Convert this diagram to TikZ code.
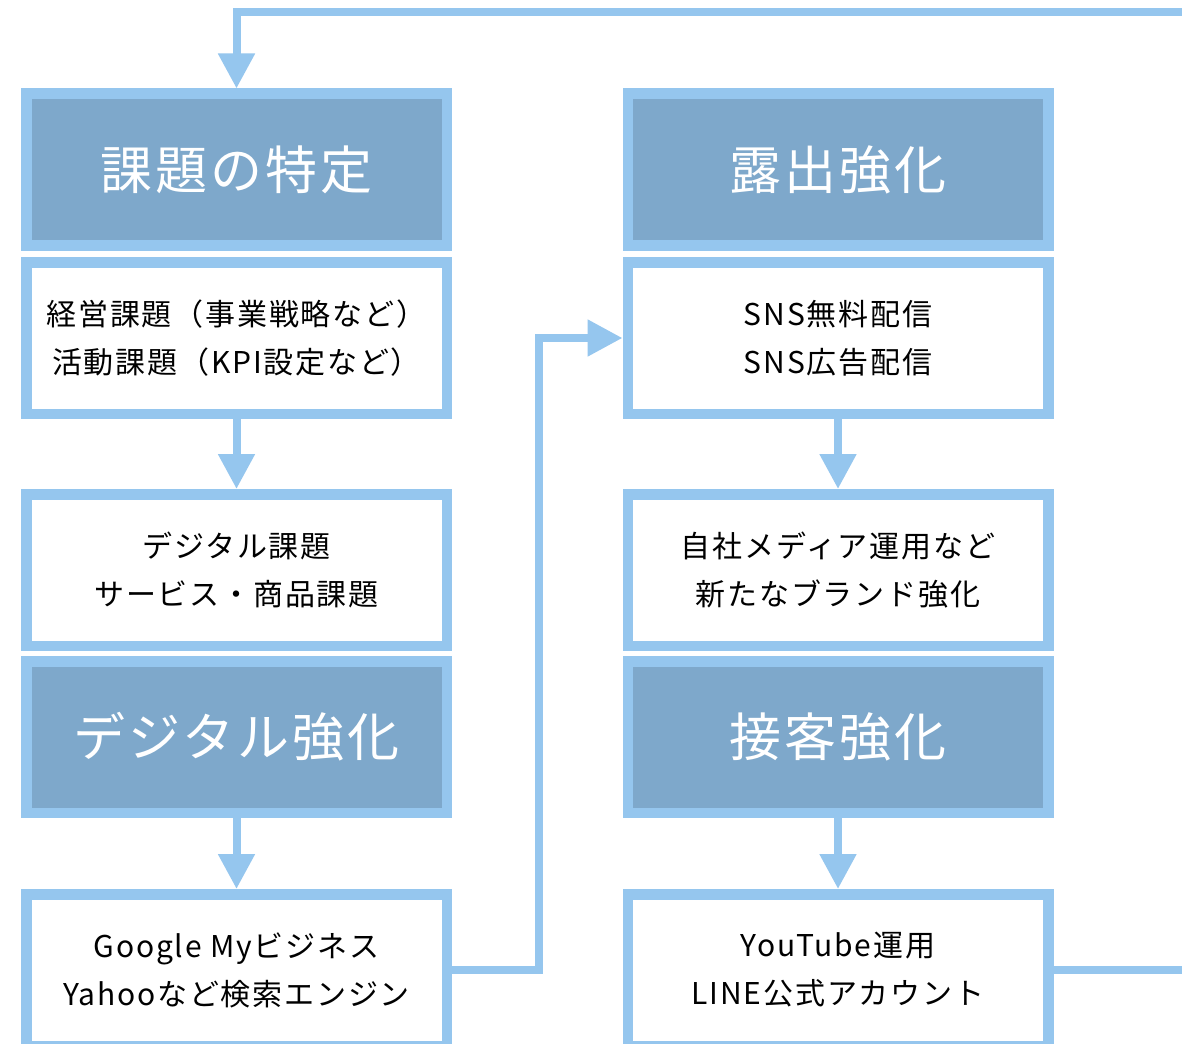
\documentclass[tikz,border=0pt]{standalone}
\usepackage{fontspec}
\setmainfont{Noto Sans CJK JP}
\newfontfamily\spacedfont{Noto Sans CJK JP}[LetterSpace=6]
\usetikzlibrary{arrows.meta}
\definecolor{bordc}{HTML}{95C6EE}
\definecolor{headc}{HTML}{7EA8CB}
\tikzset{
  box/.style={draw=bordc, line width=10.5pt, minimum width=420.5pt, minimum height=151.5pt, inner sep=0pt, align=center},
  headbox/.style={box, fill=headc, text=white, font=\spacedfont\fontsize{52}{60}\selectfont},
  bodybox/.style={box, fill=white, text=black, font=\spacedfont\fontsize{30}{48}\selectfont},
  conn/.style={draw=bordc, line width=8pt},
  arr/.style={conn, -{Triangle[width=35pt,length=35pt]}}
}
\begin{document}
\begin{tikzpicture}[x=1pt,y=-1pt]
\useasboundingbox (0,0) rectangle (1182,1043);
\clip (0,0) rectangle (1182,1043);
\fill[white] (0,0) rectangle (1182,1043);
% left column
\node[headbox] (h1) at (236.5,169.5) {課題の特定};
\node[bodybox] (b2) at (236.5,338) {経営課題（事業戦略など）\\活動課題（KPI設定など）};
\node[bodybox] (b3) at (236.5,570) {デジタル課題\\サービス・商品課題};
\node[headbox] (h4) at (236.5,737) {デジタル強化};
\node[bodybox] (b5) at (236.5,970) {Google Myビジネス\\Yahooなど検索エンジン};
% right column
\node[headbox] (rh1) at (838,169.5) {露出強化};
\node[bodybox] (rb2) at (838,338) {SNS無料配信\\SNS広告配信};
\node[bodybox] (rb3) at (838,570) {自社メディア運用など\\新たなブランド強化};
\node[headbox] (rh4) at (838,737) {接客強化};
\node[bodybox] (rb5) at (838,970) {YouTube運用\\LINE公式アカウント};
% connectors
\draw[arr] (b2.south) -- (b3.north);
\draw[arr] (h4.south) -- (b5.north);
\draw[arr] (rb2.south) -- (rb3.north);
\draw[arr] (rh4.south) -- (rb5.north);
\coordinate (mid) at (539,0);
\draw[arr] (b5.east) -| (mid |- rb2.west) -- (rb2.west);
\coordinate (edgeR) at (1195,970);
\coordinate (edgeT) at (1195,12);
\draw[conn] (rb5.east) -- (edgeR);
\draw[arr] (edgeT) -- (h1.north |- edgeT) -- (h1.north);
\end{tikzpicture}
\end{document}
